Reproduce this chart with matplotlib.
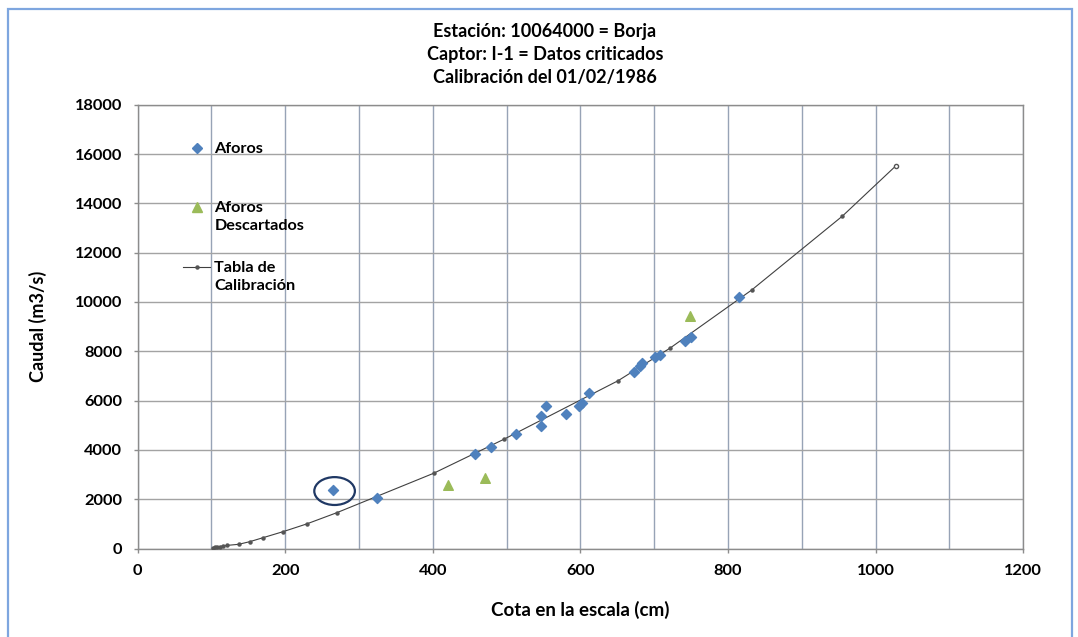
import matplotlib.pyplot as plt
from matplotlib.patches import Ellipse, Rectangle
from matplotlib.lines import Line2D
from matplotlib.ticker import MultipleLocator

plt.rcParams['font.family'] = ['Lato', 'DejaVu Sans']

# aforos (gaugings) used for the rating curve
aforos_cota = [265, 325, 457, 479, 513, 546, 546, 554, 580, 598, 602, 612,
               672, 681, 684, 701, 708, 742, 750, 815]
aforos_caudal = [2372, 2060, 3832, 4128, 4655, 4980, 5373, 5766, 5466, 5780, 5900, 6306,
                 7170, 7400, 7510, 7753, 7847, 8427, 8589, 10186]

# discarded gaugings
descartados_cota = [421, 471, 748]
descartados_caudal = [2575, 2871, 9428]

# calibration table (stage -> discharge)
tabla_cota = [102, 105, 108, 112, 116, 121, 137, 152, 170, 197, 229, 270,
              401, 497, 651, 721, 832, 955, 1027]
tabla_caudal = [40, 50, 65, 80, 100, 125, 170, 276, 438, 681, 994, 1452,
                3049, 4440, 6804, 8118, 10483, 13483, 15511]

titulo = ["Estación: 10064000 = Borja",
          "Captor: I-1 = Datos criticados",
          "Calibración del 01/02/1986"]

AZUL = '#4F81BD'
VERDE = '#9BBB59'
GRIS = '#404040'

W, H = 1078, 637


def px(x, y):
    # pixel position -> figure fraction
    return x / W, 1 - y / H


fig = plt.figure(figsize=(W / 100, H / 100), dpi=100)
ax = fig.add_axes([137.5 / W, (H - 548.5) / H, 885.8 / W, 443.8 / H])

ax.plot(tabla_cota, tabla_caudal, color=GRIS, lw=0.8, marker='o', ms=2.2,
        mfc='#555555', mec='#555555', zorder=3)
ax.plot(tabla_cota[-1], tabla_caudal[-1], marker='o', ms=3, mfc='white',
        mec='#555555', zorder=4)
ax.scatter(aforos_cota, aforos_caudal, marker='D', s=26, color=AZUL, zorder=5)
ax.scatter(descartados_cota, descartados_caudal, marker='^', s=48, color=VERDE, zorder=5)

# circle round the suspicious gauging
ax.add_patch(Ellipse((267, 2330), width=55, height=1130, fill=False,
                     edgecolor='#1F3864', lw=1.6, zorder=6))

ax.set_xlim(0, 1200)
ax.set_ylim(0, 18000)
ax.xaxis.set_major_locator(MultipleLocator(200))
ax.xaxis.set_minor_locator(MultipleLocator(100))
ax.yaxis.set_major_locator(MultipleLocator(2000))
ax.set_axisbelow(True)
ax.grid(axis='x', which='both', color='#97A3B6', lw=1.0)
ax.grid(axis='y', which='major', color='#A3A3A3', lw=1.0)
ax.tick_params(axis='both', which='major', direction='out', length=3, width=1,
               color='#8C8C8C', labelsize=11.8, pad=8)
ax.tick_params(axis='x', which='minor', length=0)
for lab in ax.get_xticklabels() + ax.get_yticklabels():
    lab.set_fontweight('bold')
for s in ax.spines.values():
    s.set_color('#8C8C8C')
    s.set_linewidth(1.0)

ax.set_xlabel("Cota en la escala (cm)", fontsize=13.5, fontweight='bold', labelpad=17)
ax.set_ylabel("Caudal (m3/s)", fontsize=13, fontweight='bold', labelpad=20)

for i, linea in enumerate(titulo):
    fig.text(*px(545, 32 + 22.5 * i), linea, ha='center', va='center',
             fontsize=13, fontweight='bold')

# legend
fig.add_artist(Line2D([px(196.5, 0)[0]], [px(0, 148)[1]], marker='D', ms=5,
                      color=AZUL, ls='none', transform=fig.transFigure))
fig.add_artist(Line2D([px(196.5, 0)[0]], [px(0, 207)[1]], marker='^', ms=7,
                      color=VERDE, ls='none', transform=fig.transFigure))
fig.add_artist(Line2D([px(183, 0)[0], px(210, 0)[0]], [px(0, 267)[1]] * 2,
                      color=GRIS, lw=0.8, transform=fig.transFigure))
fig.add_artist(Line2D([px(196.5, 0)[0]], [px(0, 267)[1]], marker='o', ms=2.2,
                      color='#555555', ls='none', transform=fig.transFigure))
leyenda = [("Aforos", 148), ("Aforos\nDescartados", 207), ("Tabla de\nCalibración", 267)]
for texto, y in leyenda:
    fig.text(*px(214.5, y - 6), texto, ha='left', va='top', fontsize=11.7,
             fontweight='bold', linespacing=1.4)

# outer chart frame
fig.add_artist(Rectangle(px(8, 660), (1072 - 8) / W, (660 - 9) / H, fill=False,
                         edgecolor='#7EA6DF', lw=1.6, transform=fig.transFigure))

fig.savefig('out.png', dpi=100)
